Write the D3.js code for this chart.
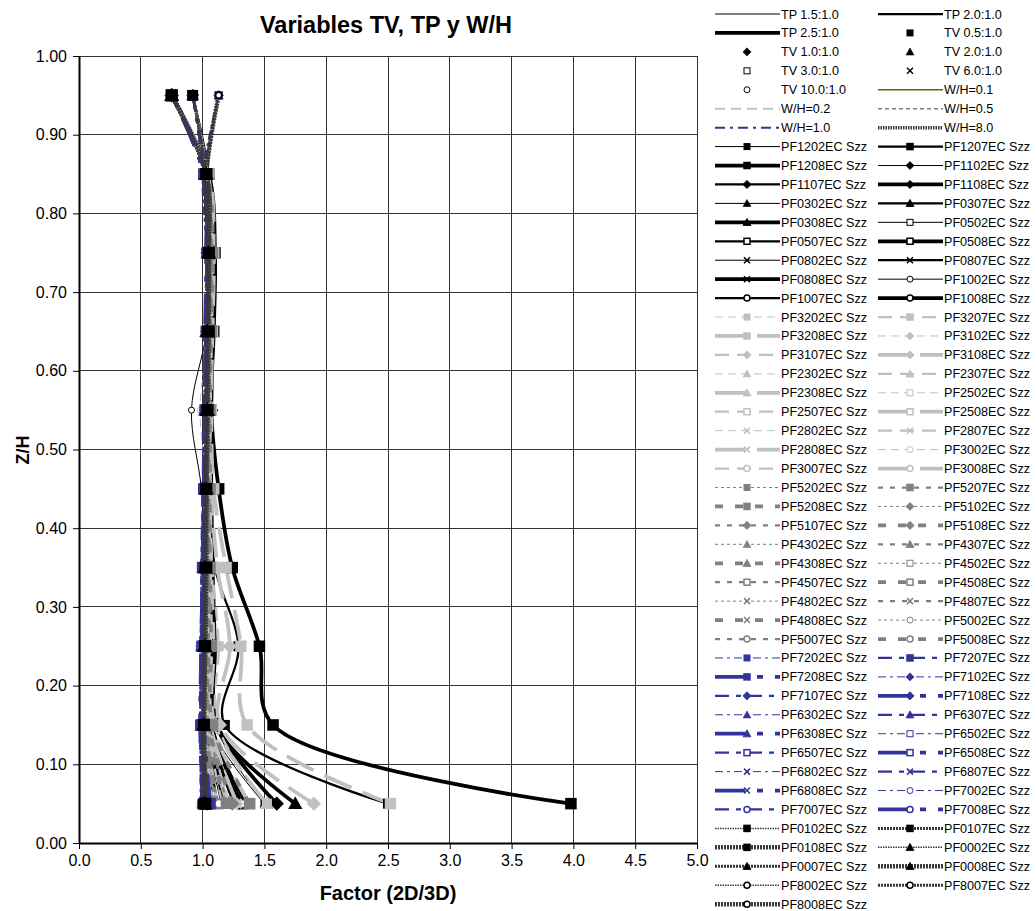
<!DOCTYPE html>
<html>
<head>
<meta charset="utf-8">
<script src="https://cdn.jsdelivr.net/npm/d3@7"></script>
<style>
  body { margin: 0; background: #fff; }
  text { font-family: "Liberation Sans", Arial, sans-serif; }
</style>
</head>
<body>
<div id="chart"></div>
<script>
// heights where the factor was read (Z/H)
var zLevels = [0.05, 0.15, 0.25, 0.35, 0.45, 0.55, 0.65, 0.75, 0.85, 0.95];
var xTicks = [0.0, 0.5, 1.0, 1.5, 2.0, 2.5, 3.0, 3.5, 4.0, 4.5, 5.0];
var yTicks = [0.0, 0.1, 0.2, 0.3, 0.4, 0.5, 0.6, 0.7, 0.8, 0.9, 1.0];

// legend-only keys
var keyLabels = ["TP 1.5:1.0", "TP 2.0:1.0", "TP 2.5:1.0", "TV 0.5:1.0", "TV 1.0:1.0", "TV 2.0:1.0",
  "TV 3.0:1.0", "TV 6.0:1.0", "TV 10.0:1.0", "W/H=0.1", "W/H=0.2", "W/H=0.5", "W/H=1.0", "W/H=8.0"];

// W/H = 0.1
var namesWH01 = ["PF1202EC Szz", "PF1207EC Szz", "PF1208EC Szz", "PF1102EC Szz", "PF1107EC Szz", "PF1108EC Szz",
  "PF0302EC Szz", "PF0307EC Szz", "PF0308EC Szz", "PF0502EC Szz", "PF0507EC Szz", "PF0508EC Szz",
  "PF0802EC Szz", "PF0807EC Szz", "PF0808EC Szz", "PF1002EC Szz", "PF1007EC Szz", "PF1008EC Szz"];
var factorsWH01 = [
  [1.50, 1.10, 1.05, 1.05, 1.05, 1.06, 1.07, 1.07, 1.04, 1.13],
  [2.50, 1.18, 1.29, 1.10, 1.06, 1.06, 1.08, 1.09, 1.05, 0.92],
  [3.98, 1.57, 1.46, 1.24, 1.13, 1.07, 1.09, 1.10, 1.05, 0.75],
  [1.15, 1.03, 1.03, 1.04, 1.05, 1.05, 1.06, 1.06, 1.03, 1.13],
  [1.30, 1.08, 1.06, 1.06, 1.06, 1.06, 1.07, 1.08, 1.04, 0.92],
  [1.60, 1.12, 1.10, 1.08, 1.07, 1.07, 1.08, 1.09, 1.04, 0.75],
  [1.50, 1.06, 1.03, 1.03, 1.04, 1.05, 1.06, 1.06, 1.03, 1.13],
  [1.35, 1.07, 1.05, 1.05, 1.05, 1.06, 1.07, 1.07, 1.04, 0.92],
  [1.75, 1.10, 1.08, 1.07, 1.06, 1.06, 1.07, 1.08, 1.04, 0.75],
  [1.08, 1.02, 1.02, 1.03, 1.04, 1.04, 1.05, 1.06, 1.03, 1.13],
  [1.20, 1.05, 1.04, 1.04, 1.05, 1.05, 1.06, 1.07, 1.03, 0.92],
  [1.32, 1.07, 1.06, 1.05, 1.05, 1.06, 1.07, 1.08, 1.04, 0.75],
  [1.05, 1.01, 1.02, 1.02, 1.03, 1.04, 1.05, 1.05, 1.02, 1.13],
  [1.12, 1.03, 1.03, 1.03, 1.04, 1.05, 1.05, 1.06, 1.03, 0.92],
  [1.26, 1.05, 1.04, 1.04, 1.05, 1.05, 1.06, 1.07, 1.03, 0.75],
  [1.03, 1.00, 1.01, 1.02, 0.99, 0.91, 1.03, 1.04, 1.02, 1.13],
  [1.08, 1.02, 1.02, 1.03, 1.03, 1.04, 1.05, 1.05, 1.03, 0.92],
  [1.18, 1.04, 1.03, 1.03, 1.04, 1.05, 1.05, 1.06, 1.03, 0.75]
];

// W/H = 0.2
var namesWH02 = ["PF3202EC Szz", "PF3207EC Szz", "PF3208EC Szz", "PF3102EC Szz", "PF3107EC Szz", "PF3108EC Szz",
  "PF2302EC Szz", "PF2307EC Szz", "PF2308EC Szz", "PF2502EC Szz", "PF2507EC Szz", "PF2508EC Szz",
  "PF2802EC Szz", "PF2807EC Szz", "PF2808EC Szz", "PF3002EC Szz", "PF3007EC Szz", "PF3008EC Szz"];
var factorsWH02 = [
  [1.22, 1.05, 1.04, 1.04, 1.05, 1.06, 1.06, 1.07, 1.03, 1.13],
  [1.52, 1.12, 1.13, 1.08, 1.06, 1.06, 1.07, 1.08, 1.04, 0.92],
  [2.52, 1.36, 1.31, 1.19, 1.09, 1.07, 1.08, 1.09, 1.05, 0.75],
  [1.10, 1.03, 1.03, 1.03, 1.04, 1.05, 1.05, 1.06, 1.03, 1.13],
  [1.28, 1.07, 1.06, 1.05, 1.05, 1.06, 1.06, 1.07, 1.04, 0.92],
  [1.90, 1.14, 1.22, 1.12, 1.07, 1.06, 1.07, 1.08, 1.04, 0.75],
  [1.08, 1.02, 1.03, 1.03, 1.04, 1.04, 1.05, 1.06, 1.03, 1.13],
  [1.22, 1.05, 1.05, 1.04, 1.05, 1.05, 1.06, 1.07, 1.03, 0.92],
  [1.52, 1.10, 1.09, 1.07, 1.06, 1.06, 1.07, 1.08, 1.04, 0.75],
  [1.06, 1.02, 1.02, 1.03, 1.03, 1.04, 1.05, 1.05, 1.03, 1.13],
  [1.16, 1.04, 1.04, 1.04, 1.04, 1.05, 1.06, 1.06, 1.03, 0.92],
  [1.38, 1.08, 1.07, 1.06, 1.05, 1.06, 1.06, 1.07, 1.04, 0.75],
  [1.04, 1.01, 1.02, 1.02, 1.03, 1.04, 1.04, 1.05, 1.02, 1.13],
  [1.12, 1.03, 1.03, 1.03, 1.04, 1.05, 1.05, 1.06, 1.03, 0.92],
  [1.28, 1.06, 1.05, 1.05, 1.05, 1.05, 1.06, 1.07, 1.03, 0.75],
  [1.03, 1.01, 1.01, 1.02, 1.03, 0.98, 1.04, 1.05, 1.02, 1.13],
  [1.08, 1.02, 1.02, 1.03, 1.03, 1.04, 1.05, 1.05, 1.03, 0.92],
  [1.20, 1.04, 1.04, 1.04, 1.04, 1.05, 1.05, 1.06, 1.03, 0.75]
];

// W/H = 0.5
var namesWH05 = ["PF5202EC Szz", "PF5207EC Szz", "PF5208EC Szz", "PF5102EC Szz", "PF5107EC Szz", "PF5108EC Szz",
  "PF4302EC Szz", "PF4307EC Szz", "PF4308EC Szz", "PF4502EC Szz", "PF4507EC Szz", "PF4508EC Szz",
  "PF4802EC Szz", "PF4807EC Szz", "PF4808EC Szz", "PF5002EC Szz", "PF5007EC Szz", "PF5008EC Szz"];
var factorsWH05 = [
  [1.10, 1.03, 1.03, 1.03, 1.04, 1.04, 1.05, 1.06, 1.03, 1.13],
  [1.20, 1.05, 1.05, 1.05, 1.05, 1.05, 1.06, 1.07, 1.03, 0.92],
  [1.38, 1.08, 1.07, 1.06, 1.06, 1.06, 1.07, 1.08, 1.04, 0.75],
  [1.06, 1.02, 1.02, 1.03, 1.03, 1.04, 1.05, 1.05, 1.03, 1.13],
  [1.12, 1.03, 1.03, 1.04, 1.04, 1.05, 1.05, 1.06, 1.03, 0.92],
  [1.24, 1.05, 1.05, 1.05, 1.05, 1.05, 1.06, 1.07, 1.03, 0.75],
  [1.04, 1.01, 1.02, 1.02, 1.03, 1.04, 1.04, 1.05, 1.02, 1.13],
  [1.10, 1.03, 1.03, 1.03, 1.04, 1.04, 1.05, 1.06, 1.03, 0.92],
  [1.18, 1.04, 1.04, 1.04, 1.04, 1.05, 1.05, 1.06, 1.03, 0.75],
  [1.03, 1.01, 1.01, 1.02, 1.03, 1.03, 1.04, 1.05, 1.02, 1.13],
  [1.07, 1.02, 1.02, 1.03, 1.03, 1.04, 1.05, 1.05, 1.03, 0.92],
  [1.12, 1.03, 1.03, 1.03, 1.04, 1.04, 1.05, 1.06, 1.03, 0.75],
  [1.02, 1.00, 1.01, 1.02, 1.02, 1.03, 1.04, 1.04, 1.02, 1.13],
  [1.05, 1.01, 1.02, 1.02, 1.03, 1.04, 1.04, 1.05, 1.02, 0.92],
  [1.08, 1.02, 1.02, 1.03, 1.03, 1.04, 1.05, 1.05, 1.03, 0.75],
  [1.01, 1.00, 1.01, 1.01, 1.02, 1.03, 1.03, 1.04, 1.02, 1.13],
  [1.03, 1.01, 1.01, 1.02, 1.02, 1.03, 1.04, 1.04, 1.02, 0.92],
  [1.05, 1.01, 1.02, 1.02, 1.03, 1.03, 1.04, 1.05, 1.02, 0.75]
];

// W/H = 1.0
var namesWH10 = ["PF7202EC Szz", "PF7207EC Szz", "PF7208EC Szz", "PF7102EC Szz", "PF7107EC Szz", "PF7108EC Szz",
  "PF6302EC Szz", "PF6307EC Szz", "PF6308EC Szz", "PF6502EC Szz", "PF6507EC Szz", "PF6508EC Szz",
  "PF6802EC Szz", "PF6807EC Szz", "PF6808EC Szz", "PF7002EC Szz", "PF7007EC Szz", "PF7008EC Szz"];
var factorsWH10 = [
  [1.02, 1.00, 1.00, 1.01, 1.02, 1.03, 1.03, 1.04, 1.02, 1.13],
  [1.04, 1.00, 1.01, 1.01, 1.02, 1.03, 1.04, 1.04, 1.02, 0.92],
  [1.06, 1.01, 1.01, 1.02, 1.02, 1.03, 1.04, 1.05, 1.02, 0.75],
  [1.00, 0.99, 0.99, 1.00, 1.01, 1.02, 1.03, 1.04, 1.01, 1.13],
  [1.02, 0.99, 1.00, 1.01, 1.02, 1.02, 1.03, 1.04, 1.02, 0.92],
  [1.04, 1.00, 1.00, 1.01, 1.02, 1.03, 1.04, 1.04, 1.02, 0.75],
  [0.99, 0.98, 0.99, 1.00, 1.01, 1.02, 1.03, 1.03, 1.01, 1.13],
  [1.01, 0.99, 0.99, 1.00, 1.01, 1.02, 1.03, 1.04, 1.01, 0.92],
  [1.03, 0.99, 1.00, 1.01, 1.02, 1.02, 1.03, 1.04, 1.02, 0.75],
  [0.99, 0.98, 0.99, 1.00, 1.01, 1.02, 1.02, 1.03, 1.01, 1.13],
  [1.00, 0.98, 0.99, 1.00, 1.01, 1.02, 1.03, 1.03, 1.01, 0.92],
  [1.02, 0.99, 1.00, 1.00, 1.01, 1.02, 1.03, 1.04, 1.01, 0.75],
  [0.99, 0.98, 0.98, 0.99, 1.00, 1.01, 1.02, 1.03, 1.01, 1.13],
  [1.00, 0.98, 0.99, 1.00, 1.01, 1.02, 1.02, 1.03, 1.01, 0.92],
  [1.01, 0.99, 0.99, 1.00, 1.01, 1.02, 1.03, 1.03, 1.01, 0.75],
  [0.98, 0.98, 0.98, 0.99, 1.00, 1.01, 1.02, 1.03, 1.00, 1.13],
  [0.99, 0.98, 0.99, 0.99, 1.00, 1.01, 1.02, 1.03, 1.01, 0.92],
  [1.00, 0.98, 0.99, 1.00, 1.01, 1.02, 1.02, 1.03, 1.01, 0.75]
];

// W/H = 8.0
var namesWH80 = ["PF0102EC Szz", "PF0107EC Szz", "PF0108EC Szz", "PF0002EC Szz", "PF0007EC Szz", "PF0008EC Szz",
  "PF8002EC Szz", "PF8007EC Szz", "PF8008EC Szz"];
var factorsWH80 = [
  [1.00, 1.00, 1.01, 1.02, 1.02, 1.03, 1.04, 1.04, 1.03, 0.92],
  [1.01, 1.01, 1.02, 1.02, 1.03, 1.04, 1.04, 1.05, 1.03, 0.92],
  [1.02, 1.01, 1.02, 1.03, 1.03, 1.04, 1.05, 1.05, 1.03, 0.75],
  [1.00, 1.00, 1.01, 1.02, 1.02, 1.03, 1.04, 1.04, 1.02, 0.92],
  [1.01, 1.01, 1.01, 1.02, 1.03, 1.03, 1.04, 1.05, 1.03, 0.75],
  [1.02, 1.01, 1.02, 1.02, 1.03, 1.04, 1.04, 1.05, 1.03, 0.75],
  [1.00, 1.00, 1.01, 1.01, 1.02, 1.03, 1.03, 1.04, 1.02, 1.13],
  [1.01, 1.00, 1.01, 1.02, 1.02, 1.03, 1.04, 1.04, 1.03, 1.13],
  [1.02, 1.01, 1.02, 1.02, 1.03, 1.03, 1.04, 1.05, 1.03, 1.13]
];

// ---- styles ----
var widths = [1, 2.25, 3.75];
var groups = [
  { names: namesWH01, values: factorsWH01, color: "#000000", mcolor: "#000000",
    dash: [null, null, null], markers: ["square", "diamond", "triangle", "openSquare", "x", "openCircle"] },
  { names: namesWH02, values: factorsWH02, color: "#c0c0c0", mcolor: "#c0c0c0",
    dash: ["8,5", "14,8", "30,12"], markers: ["square", "diamond", "triangle", "openSquare", "x", "openCircle"] },
  { names: namesWH05, values: factorsWH05, color: "#808080", mcolor: "#808080",
    dash: ["3,3", "5,7", "8,12"], markers: ["square", "diamond", "triangle", "openSquare", "x", "openCircle"] },
  { names: namesWH10, values: factorsWH10, color: "#333399", mcolor: "#333399",
    dash: ["8,4,3,4", "14,7,5,7", "30,12,6,12"], markers: ["square", "diamond", "triangle", "openSquare", "x", "openCircle"] },
  { names: namesWH80, values: factorsWH80, color: "#3a3a3a", mcolor: "#000000",
    dash: ["1.5,1", "2,1", "2,1"], widths: [1.5, 3, 4.5], markers: ["square", "triangle", "openCircle"], topFirst: true }
];

var series = [];
var markerOrder = [];
groups.forEach(function(g) {
  var start = series.length;
  g.names.forEach(function(name, i) {
    var k = i % 3;
    series.push({
      name: name,
      points: g.values[i].map(function(v, j) { return [v, zLevels[j]]; }),
      color: g.color, mcolor: g.mcolor,
      width: g.widths ? g.widths[k] : widths[k],
      dash: g.dash[k],
      marker: g.markers[Math.floor(i / 3)]
    });
  });
  var idx = d3.range(start, series.length);
  if (g.topFirst) idx.reverse();
  markerOrder = markerOrder.concat(idx);
});

var keys = [
  { name: keyLabels[0], color: "#000", width: 1, dash: null, marker: null },
  { name: keyLabels[1], color: "#000", width: 2.25, dash: null, marker: null },
  { name: keyLabels[2], color: "#000", width: 3.75, dash: null, marker: null },
  { name: keyLabels[3], color: null, mcolor: "#000", width: 1, marker: "square" },
  { name: keyLabels[4], color: null, mcolor: "#000", width: 1, marker: "diamond" },
  { name: keyLabels[5], color: null, mcolor: "#000", width: 1, marker: "triangle" },
  { name: keyLabels[6], color: null, mcolor: "#000", width: 1, marker: "openSquare" },
  { name: keyLabels[7], color: null, mcolor: "#000", width: 1, marker: "x" },
  { name: keyLabels[8], color: null, mcolor: "#000", width: 1, marker: "openCircle" },
  { name: keyLabels[9], color: "#666600", width: 1.5, dash: null, marker: null },
  { name: keyLabels[10], color: "#c0c0c0", width: 2, dash: "10,6", marker: null },
  { name: keyLabels[11], color: "#808080", width: 1.5, dash: "4,3", marker: null },
  { name: keyLabels[12], color: "#333399", width: 2, dash: "10,5,3,5", marker: null },
  { name: keyLabels[13], color: "#3a3a3a", width: 3.5, dash: "1.5,1", marker: null }
];

// ---- chart ----
var W = 1036, H = 911;
var svg = d3.select("#chart").append("svg").attr("width", W).attr("height", H);
svg.append("rect").attr("width", W).attr("height", H).attr("fill", "#fff");

var x = d3.scaleLinear().domain([0, 5]).range([79, 697]);
var y = d3.scaleLinear().domain([0, 1]).range([843, 56]);

// gridlines
svg.append("g").selectAll("line").data(xTicks.slice(1)).enter().append("line")
  .attr("x1", function(d) { return x(d); }).attr("x2", function(d) { return x(d); })
  .attr("y1", y(0)).attr("y2", y(1))
  .attr("stroke", "#333").attr("stroke-width", 1).attr("shape-rendering", "crispEdges");
svg.append("g").selectAll("line").data(yTicks.slice(1)).enter().append("line")
  .attr("x1", x(0)).attr("x2", x(5))
  .attr("y1", function(d) { return y(d); }).attr("y2", function(d) { return y(d); })
  .attr("stroke", "#333").attr("stroke-width", 1).attr("shape-rendering", "crispEdges");

// axes
var gx = svg.append("g").attr("transform", "translate(0," + y(0) + ")")
  .call(d3.axisBottom(x).tickValues(xTicks).tickFormat(d3.format(".1f")).tickSize(6).tickSizeOuter(0).tickPadding(6));
var gy = svg.append("g").attr("transform", "translate(" + x(0) + ",0)")
  .call(d3.axisLeft(y).tickValues(yTicks).tickFormat(d3.format(".2f")).tickSize(6).tickSizeOuter(0).tickPadding(6));
[gx, gy].forEach(function(g) {
  g.select(".domain").attr("stroke", "#000").attr("stroke-width", 2);
  g.selectAll(".tick line").attr("stroke", "#000");
  g.selectAll(".tick text").attr("fill", "#000").style("font-size", "16px")
    .style("font-family", "'Liberation Sans', Arial, sans-serif");
});

// titles
svg.append("text").attr("x", 386).attr("y", 33).attr("text-anchor", "middle")
  .style("font-size", "23.5px").style("font-weight", "bold").text("Variables TV, TP y W/H");
svg.append("text").attr("x", 388).attr("y", 900).attr("text-anchor", "middle")
  .style("font-size", "20px").style("font-weight", "bold").text("Factor (2D/3D)");
svg.append("text").attr("transform", "translate(29,450) rotate(-90)").attr("text-anchor", "middle")
  .style("font-size", "18px").style("font-weight", "bold").text("Z/H");

// markers
function drawMarker(g, type, cx, cy, color, lw, size) {
  var s = size / 2;
  var sw = Math.min(lw, 2.5);
  if (type === "square" || type === "openSquare") {
    g.append("rect").attr("x", cx - s).attr("y", cy - s).attr("width", size).attr("height", size)
      .attr("fill", type === "square" ? color : "#fff").attr("stroke", color).attr("stroke-width", sw);
  } else if (type === "diamond") {
    var d = s * 1.35;
    g.append("path").attr("d", "M" + cx + "," + (cy - d) + "L" + (cx + d) + "," + cy + "L" + cx + "," + (cy + d) + "L" + (cx - d) + "," + cy + "Z")
      .attr("fill", color).attr("stroke", color).attr("stroke-width", sw * 0.6);
  } else if (type === "triangle") {
    var t = s * 1.3;
    g.append("path").attr("d", "M" + cx + "," + (cy - t) + "L" + (cx + t) + "," + (cy + t * 0.8) + "L" + (cx - t) + "," + (cy + t * 0.8) + "Z")
      .attr("fill", color).attr("stroke", color).attr("stroke-width", sw * 0.6);
  } else if (type === "openCircle") {
    g.append("circle").attr("cx", cx).attr("cy", cy).attr("r", s)
      .attr("fill", "#fff").attr("stroke", color).attr("stroke-width", Math.min(sw, 1.5));
  } else if (type === "x") {
    g.append("path").attr("d", "M" + (cx - s) + "," + (cy - s) + "L" + (cx + s) + "," + (cy + s) + "M" + (cx + s) + "," + (cy - s) + "L" + (cx - s) + "," + (cy + s))
      .attr("fill", "none").attr("stroke", color).attr("stroke-width", Math.max(1.5, sw));
  }
}

var line = d3.line()
  .x(function(d) { return x(d[0]); })
  .y(function(d) { return y(d[1]); })
  .curve(d3.curveCatmullRom.alpha(0.5));

var gLines = svg.append("g");
gLines.selectAll("path").data(series).enter().append("path")
  .attr("d", function(d) { return line(d.points); })
  .attr("fill", "none")
  .attr("stroke", function(d) { return d.color; })
  .attr("stroke-width", function(d) { return d.width; })
  .attr("stroke-dasharray", function(d) { return d.dash; });

var gMarks = svg.append("g");
markerOrder.forEach(function(i) {
  var s = series[i];
  var size = s.marker === "openCircle" ? 6 : 6 + s.width * 0.8;
  s.points.forEach(function(p) {
    drawMarker(gMarks, s.marker, x(p[0]), y(p[1]), s.mcolor, s.width, size);
  });
});

// legend
var legendItems = keys.concat(series);
var rowH = 18.94;
var gLeg = svg.append("g");
legendItems.forEach(function(d, i) {
  var row = Math.floor(i / 2), col = i % 2;
  var x0 = col === 0 ? 715 : 878;
  var cy = 14 + row * rowH;
  var g = gLeg.append("g");
  if (d.color) {
    g.append("line").attr("x1", x0).attr("x2", x0 + 65).attr("y1", cy).attr("y2", cy)
      .attr("stroke", d.color).attr("stroke-width", d.width).attr("stroke-dasharray", d.dash || null);
  }
  if (d.marker) {
    drawMarker(g, d.marker, x0 + 32, cy, d.mcolor, Math.min(d.width || 1, 1.5), 6);
  }
  g.append("text").attr("x", x0 + 66).attr("y", cy + 4.5)
    .style("font-size", "12.6px").attr("fill", "#000").text(d.name);
});
</script>
</body>
</html>
